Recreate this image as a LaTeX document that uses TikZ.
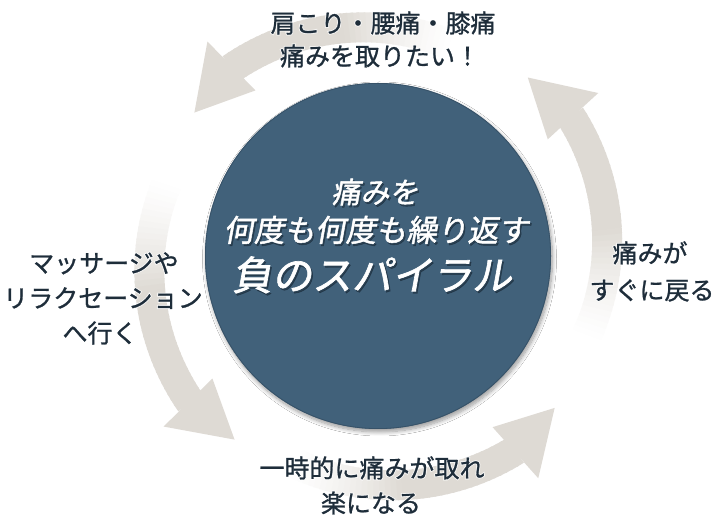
\documentclass[tikz,border=0pt]{standalone}
\usepackage{fontspec}
\setmainfont{Noto Sans CJK JP}[FakeBold=1.0]
\newfontfamily\jphaloA{Noto Sans CJK JP}[FakeBold=9]
\newfontfamily\jphaloB{Noto Sans CJK JP}[FakeBold=5]
\newfontfamily\jpslant{Noto Sans CJK JP}[FakeSlant=0.18, FakeBold=1.6]
\usetikzlibrary{calc,shadows.blur}
\definecolor{arrowc}{HTML}{DEDAD4}
\definecolor{circc}{HTML}{41617A}
\definecolor{txtc}{HTML}{1E2D3A}
\definecolor{shdc}{HTML}{1A2A38}
\tikzset{
  outtext/.style={inner sep=0pt, anchor=base, text=txtc, font=\fontsize{25}{30}\selectfont},
  halotext/.style={inner sep=0pt, anchor=base, text=white},
  intext/.style={inner sep=0pt, anchor=base, text=white},
}
\newcommand\glowtext[3]{% name, position, text
  \node[halotext, opacity=0.5, font=\jphaloA\fontsize{25}{30}\selectfont] at (#2) {#3};
  \node[halotext, font=\jphaloB\fontsize{25}{30}\selectfont] at (#2) {#3};
  \node[outtext] (#1) at (#2) {#3};
}
\newcommand\intextline[4]{% name, position, size, text
  \node[intext, text=shdc, opacity=0.6, font=\jpslant\fontsize{#3}{#3}\selectfont] at ($(#2)+(1.5,-2)$) {#4};
  \node[intext, font=\jpslant\fontsize{#3}{#3}\selectfont] (#1) at (#2) {#4};
}
\newcommand\spiralarrow[1]{% tip angle
  \pgfmathsetmacro\Ta{#1-72}
  \pgfmathsetmacro\Tb{#1-14.5}
  \foreach \i in {0,...,39}{
    \pgfmathsetmacro\aA{\Ta+(\Tb-\Ta)*\i/40}
    \pgfmathsetmacro\aB{\Ta+(\Tb-\Ta)*(\i+1)/40+0.4}
    \pgfmathsetmacro\rAi{223+15*\i/40-15}
    \pgfmathsetmacro\rAo{223+15*\i/40+15}
    \pgfmathsetmacro\rBi{223+15*(\i+1)/40-15}
    \pgfmathsetmacro\rBo{223+15*(\i+1)/40+15}
    \pgfmathsetmacro\s{min(1,(\i+0.5)/20)}
    \pgfmathsetmacro\p{100*\s^1.4}
    \fill[arrowc!\p!white] ($(C)+(\aA:\rAi)$) -- ($(C)+(\aB:\rBi)$) -- ($(C)+(\aB:\rBo)$) -- ($(C)+(\aA:\rAo)$) -- cycle;
  }
  \pgfmathsetmacro\Tbi{\Tb-1}
  \pgfmathsetmacro\Tbo{\Tb+1}
  \fill[arrowc] ($(C)+(\Tbi:206)$) -- ($(C)+(#1:233)$) -- ($(C)+(\Tbo:274)$) -- cycle;
}
\begin{document}
\begin{tikzpicture}[x=1pt,y=1pt]
\useasboundingbox (0,0) rectangle (720,521);
\fill[white] (0,0) rectangle (720,521);
\coordinate (C) at (378,265);
% arrows
\spiralarrow{50}
\spiralarrow{142}
\spiralarrow{232}
\spiralarrow{319.3}
% central circle
\path[fill=circc, blur shadow={shadow xshift=1.5pt, shadow yshift=-3pt, shadow blur radius=4pt, shadow blur steps=10, shadow opacity=40}] (C) circle[radius=173];
\draw[circc!85!black, line width=0.8pt] (C) circle[radius=172.6];
% circle text
\intextline{c1}{375,318}{29}{痛みを}
\intextline{c2}{376,279.5}{30.5}{何度も何度も繰り返す}
\intextline{c3}{372,231}{40}{負のスパイラル}
% outer text
\glowtext{t1}{383,488.5}{肩こり・腰痛・膝痛}
\glowtext{t2}{380,455.5}{痛みを取りたい！}
\glowtext{l1}{104,248.5}{マッサージや}
\glowtext{l2}{103,213.5}{リラクセーション}
\glowtext{l3}{100,178.5}{へ行く}
\glowtext{r1}{650,258.5}{痛みが}
\glowtext{r2}{652,221.5}{すぐに戻る}
\glowtext{b1}{372,43.5}{一時的に痛みが取れ}
\glowtext{b2}{371,8.5}{楽になる}
\end{tikzpicture}
\end{document}
